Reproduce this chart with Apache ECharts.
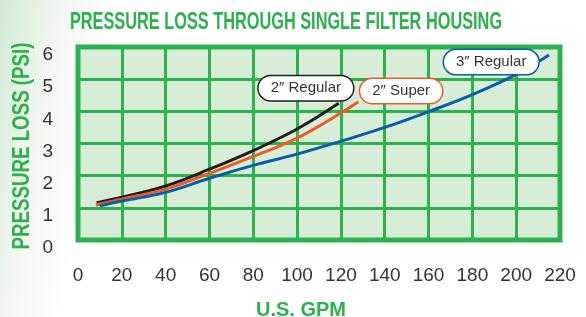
<!DOCTYPE html>
<html>
<head>
<meta charset="utf-8">
<script src="https://cdn.jsdelivr.net/npm/echarts@6/dist/echarts.min.js"></script>
<style>
html, body { margin: 0; padding: 0; }
body { background: linear-gradient(100deg, #d3e9d3 0px, #e2f0e2 30px, #f3f5f3 60px, #ffffff 115px); }
#chart { width: 586px; height: 317px; }
</style>
</head>
<body>
<div id="chart"></div>
<script>
// GPM / PSI readings taken off the printed chart
var regular2Data = [[8.5, 1.16], [20, 1.33], [40, 1.68], [60, 2.2], [80, 2.78], [100, 3.45], [119, 4.25]];
var super2Data = [[8.2, 1.09], [20, 1.27], [40, 1.58], [60, 2.07], [80, 2.6], [100, 3.17], [120, 3.95], [128, 4.3]];
var regular3Data = [[10, 1.06], [20, 1.21], [40, 1.48], [60, 1.92], [80, 2.32], [100, 2.67], [120, 3.07],
	[140, 3.5], [160, 3.99], [180, 4.52], [200, 5.15], [215, 5.75]];
var seriesNames = ['2\u2033 Regular', '2\u2033 Super', '3\u2033 Regular'];
var colors = ['#231f20', '#f15a24', '#0a5ea8'];

var green = '#2bb24c';
var font = "'Liberation Sans', Arial, sans-serif";

// bubble label for each curve
function bubble(name, color, coord) {
	return {
		symbol: 'circle',
		symbolSize: 0,
		silent: true,
		data: [{ coord: coord }],
		label: {
			show: true,
			position: 'inside',
			formatter: name,
			color: '#333',
			fontFamily: font,
			fontSize: 15,
			backgroundColor: '#fff',
			borderColor: color,
			borderWidth: 1.5,
			borderRadius: 13,
			padding: [5, 12, 4, 12]
		}
	};
}

function lineSeries(name, data, color, anchor) {
	return {
		name: name,
		type: 'line',
		data: data,
		smooth: 0.4,
		showSymbol: false,
		lineStyle: { color: color, width: 3 },
		markPoint: bubble(name, color, anchor),
		z: 3
	};
}

var myChart = echarts.init(document.getElementById('chart'));
var option = {
	animation: false,
	// title and y name drawn as squeezed text, the original face is condensed
	graphic: [{
		type: 'text',
		x: 286, y: 22,
		scaleX: 0.68,
		style: {
			text: 'PRESSURE LOSS THROUGH SINGLE FILTER HOUSING',
			align: 'center', verticalAlign: 'middle',
			fill: green, font: 'bold 24px ' + font
		}
	}, {
		type: 'text',
		x: 22, y: 146,
		rotation: Math.PI / 2,
		scaleX: 0.78,
		style: {
			text: 'PRESSURE LOSS (PSI)',
			align: 'center', verticalAlign: 'middle',
			fill: green, font: 'bold 24px ' + font
		}
	}],
	grid: {
		left: 78, right: 26, top: 47, bottom: 77,
		outerBoundsMode: 'none',
		show: true,
		backgroundColor: '#d8edd8',
		borderColor: green,
		borderWidth: 5
	},
	xAxis: {
		type: 'value',
		min: 0, max: 220, interval: 20,
		name: 'U.S. GPM',
		nameLocation: 'middle',
		nameGap: 60,
		nameTextStyle: { color: green, fontFamily: font, fontWeight: 'bold', fontSize: 20, padding: [0, 36, 0, 0] },
		axisLine: { show: false },
		axisTick: { show: false },
		axisLabel: { color: '#333', fontFamily: font, fontSize: 19, margin: 26 },
		splitLine: { lineStyle: { color: green, width: 3 } }
	},
	yAxis: {
		type: 'value',
		min: 0, max: 6, interval: 1,
		axisLine: { show: false },
		axisTick: { show: false },
		axisLabel: { color: '#333', fontFamily: font, fontSize: 19, margin: 25, verticalAlign: 'top', lineHeight: 16 },
		splitLine: { lineStyle: { color: green, width: 3 } }
	},
	series: [
		lineSeries(seriesNames[0], regular2Data, colors[0], [104, 4.72]),
		lineSeries(seriesNames[1], super2Data, colors[1], [147.5, 4.63]),
		lineSeries(seriesNames[2], regular3Data, colors[2], [188.6, 5.53])
	]
};
myChart.setOption(option);
</script>
</body>
</html>
